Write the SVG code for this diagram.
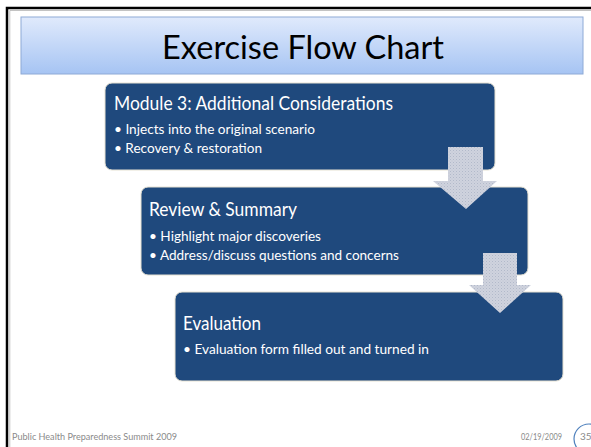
<svg xmlns="http://www.w3.org/2000/svg" width="591" height="447" viewBox="0 0 591 447">
  <defs>
    <linearGradient id="titleGrad" x1="0" y1="0" x2="0" y2="1">
      <stop offset="0" stop-color="#e0eafc"/>
      <stop offset="1" stop-color="#a6c4f3"/>
    </linearGradient>
    <pattern id="dots" width="3" height="3" patternUnits="userSpaceOnUse">
      <rect width="3" height="3" fill="#cfd3de"/>
      <rect x="0" y="0" width="1" height="1" fill="#b2b9ca"/>
      <rect x="1.5" y="1.5" width="1" height="1" fill="#c0c6d4"/>
    </pattern>
    <style>
      .box { fill: #1f497d; stroke: #e6e1d2; stroke-width: 1; }
      .head { font-family: Lato, "Open Sans", "Liberation Sans", sans-serif; font-size: 19px; fill: #ffffff; }
      .bul { font-family: Lato, "Open Sans", "Liberation Sans", sans-serif; font-size: 13px; fill: #ffffff; }
      .arrow { fill: url(#dots); stroke: none; }
      .foot { font-family: Lato, "Open Sans", "Liberation Sans", sans-serif; font-size: 10px; fill: #8a8a8a; }
    </style>
  </defs>

  <rect width="591" height="447" fill="#ffffff"/>

  <!-- slide frame -->
  <path d="M7 447 V8 H591" fill="none" stroke="#000000" stroke-width="2.5"/>
  <path d="M9.8 447 V10.5 H591" fill="none" stroke="#9a9a9a" stroke-width="0.6"/>

  <!-- title bar -->
  <g id="title">
    <rect x="21" y="17" width="562" height="57" fill="url(#titleGrad)" stroke="#8eaad6" stroke-width="1"/>
    <text x="303" y="59" text-anchor="middle" font-family="Lato, 'Open Sans', 'Liberation Sans', sans-serif" font-size="32" fill="#000000" textLength="282" lengthAdjust="spacingAndGlyphs">Exercise Flow Chart</text>
  </g>

  <g id="module3">
    <rect class="box" x="105" y="83" width="390" height="87" rx="7"/>
    <text class="head" x="114" y="110" textLength="279" lengthAdjust="spacingAndGlyphs">Module 3: Additional Considerations</text>
    <text class="bul" x="114" y="134" textLength="201" lengthAdjust="spacingAndGlyphs">• Injects into the original scenario</text>
    <text class="bul" x="114" y="153" textLength="148" lengthAdjust="spacingAndGlyphs">• Recovery &amp; restoration</text>
  </g>

  <g id="review">
    <rect class="box" x="141" y="187" width="387" height="88" rx="7"/>
    <text class="head" x="149" y="216" textLength="148" lengthAdjust="spacingAndGlyphs">Review &amp; Summary</text>
    <text class="bul" x="149" y="241" textLength="172" lengthAdjust="spacingAndGlyphs">• Highlight major discoveries</text>
    <text class="bul" x="149" y="260" textLength="250" lengthAdjust="spacingAndGlyphs">• Address/discuss questions and concerns</text>
  </g>

  <g id="evaluation">
    <rect class="box" x="175" y="292" width="388" height="89" rx="7"/>
    <text class="head" x="183" y="330" textLength="78" lengthAdjust="spacingAndGlyphs">Evaluation</text>
    <text class="bul" x="183" y="354" textLength="246" lengthAdjust="spacingAndGlyphs">• Evaluation form filled out and turned in</text>
  </g>

  <g id="connectors">
    <polygon class="arrow" points="448,147 483,147 483,181 497,181 466,209 433,181 448,181"/>
    <polygon class="arrow" points="483,253 517,253 517,285 531,285 500,313 469,285 483,285"/>
  </g>

  <g id="footer">
    <text class="foot" x="12" y="440" textLength="165" lengthAdjust="spacingAndGlyphs">Public Health Preparedness Summit 2009</text>
    <text class="foot" x="521" y="440" textLength="41" lengthAdjust="spacingAndGlyphs">02/19/2009</text>
    <circle cx="589" cy="439" r="15" fill="none" stroke="#4f81bd" stroke-width="1.2"/>
    <text class="foot" x="580" y="440">35</text>
  </g>
</svg>
